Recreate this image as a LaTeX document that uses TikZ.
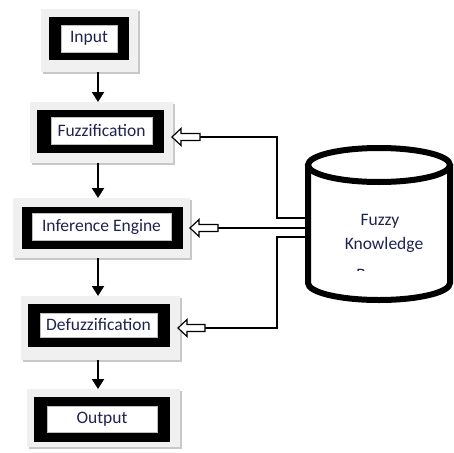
\documentclass[tikz,border=0pt]{standalone}
\usepackage{fontspec}
\setmainfont{Carlito}
\usetikzlibrary{arrows.meta,shadows}
\definecolor{lightgrey}{RGB}{240,240,240}
\definecolor{shadowgrey}{RGB}{200,200,200}
\definecolor{edgegrey}{RGB}{190,190,190}
\definecolor{navy}{RGB}{30,35,80}
\tikzset{
  greybox/.style={fill=lightgrey, draw=none, inner sep=0pt, outer sep=0pt,
    drop shadow={shadow xshift=2pt, shadow yshift=-2pt, opacity=1, fill=shadowgrey}},
  framebox/.style={fill=black, draw=none, inner sep=0pt, outer sep=0pt},
  labelbox/.style={fill=white, draw=edgegrey, line width=0.6pt, inner sep=0pt,
    outer sep=0pt, font=\fontsize{17.5}{19}\selectfont, text=navy},
  flow/.style={line width=2pt, -{Triangle[length=10pt,width=12pt]}},
  conn/.style={line width=1.2pt, black},
  hollow/.style={line width=1.2pt, draw=black, fill=white, line join=miter},
  kbtext/.style={font=\fontsize{17.5}{19}\selectfont, text=navy, inner sep=0pt}
}
\newcommand\hollowarr[2]{\draw[hollow] (#1) -- ++(9,-8.5) -- ++(0,5) -- ++(#2,0) -- ++(0,7) -- ++(-#2,0) -- ++(0,5) -- cycle;}
\begin{document}
\begin{tikzpicture}[x=1pt,y=-1pt]
\useasboundingbox (0,0) rectangle (454,452);
% Input
\node[greybox, minimum width=97, minimum height=63] (inG) at (89.5,40.5) {};
\node[framebox, minimum width=80, minimum height=43] (inF) at (89,38.5) {};
\node[labelbox, minimum width=56, minimum height=27] (in) at (89,38.5) {Input};
% Fuzzification
\node[greybox, minimum width=143, minimum height=61] (fzG) at (101.5,132.5) {};
\node[framebox, minimum width=127, minimum height=43] (fzF) at (100.5,131.5) {};
\node[labelbox, minimum width=101, minimum height=27] (fz) at (101.5,130.5) {Fuzzification};
% Inference Engine
\node[greybox, minimum width=177, minimum height=60] (ieG) at (101.5,228) {};
\node[framebox, minimum width=161, minimum height=42] (ieF) at (102.5,228) {};
\node[labelbox, minimum width=139, minimum height=27] (ie) at (101.5,226.5) {Inference Engine};
% Defuzzification
\node[greybox, minimum width=159, minimum height=64] (dfG) at (100.5,328) {};
\node[framebox, minimum width=142, minimum height=43] (dfF) at (99,325.5) {};
\node[labelbox, minimum width=117, minimum height=24] (df) at (98.5,325) {Defuzzification};
% Output
\node[greybox, minimum width=153, minimum height=58] (outG) at (103.5,418) {};
\node[framebox, minimum width=136, minimum height=45] (outF) at (102,419.5) {};
\node[labelbox, minimum width=110, minimum height=26] (out) at (102,419) {Output};
% vertical flow arrows
\coordinate (ax) at (98,0);
\draw[flow] (inG.south -| ax) -- (fzG.north -| ax);
\draw[flow] (fzG.south -| ax) -- (ieG.north -| ax);
\draw[flow] (ieG.south -| ax) -- (dfG.north -| ax);
\draw[flow] (dfG.south -| ax) -- (outG.north -| ax);
% knowledge base cylinder
\filldraw[fill=white, draw=black, line width=6pt]
  (308,165) -- (308,283) arc[start angle=180, end angle=0, x radius=71, y radius=17] -- (450,165);
\draw[line width=6pt] (379,165) ellipse[x radius=71, y radius=17];
\node[kbtext] (kb1) at (380,221) {Fuzzy};
\node[kbtext] (kb2) at (384,245) {Knowledge};
\begin{scope}
  \clip (330,262) rectangle (430,270.5);
  \node[kbtext, anchor=base] (kb3) at (373,280) {Base};
\end{scope}
% connector points
\coordinate (kbA) at (305,218);
\coordinate (kbB) at (305,228);
\coordinate (kbC) at (305,237);
\coordinate (bus1) at (277,218);
\coordinate (bus2) at (277,237);
\coordinate (fzTip) at (172,137);
\coordinate (fzEnd) at (200,137);
\coordinate (ieTip) at (190,228);
\coordinate (ieEnd) at (218,228);
\coordinate (dfTip) at (178,328);
\coordinate (dfEnd) at (205,328);
% connectors
\draw[conn] (fzEnd) -| (bus1) -- (kbA);
\draw[conn] (ieEnd) -- (kbB);
\draw[conn] (kbC) -- (bus2) |- (dfEnd);
\hollowarr{fzTip}{19}
\hollowarr{ieTip}{19}
\hollowarr{dfTip}{18}
\end{tikzpicture}
\end{document}
